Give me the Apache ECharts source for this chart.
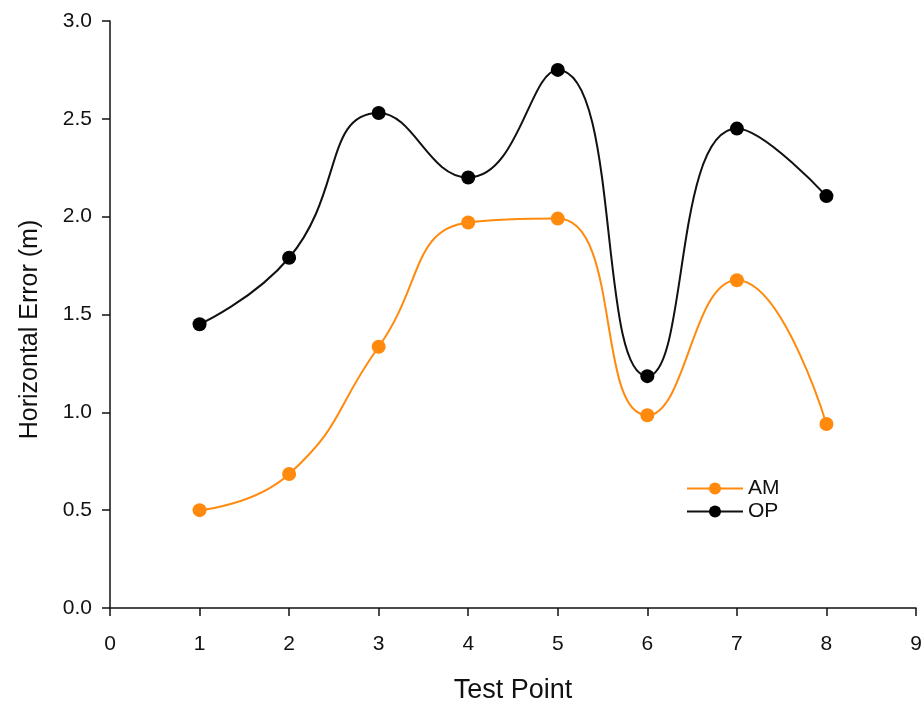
<!DOCTYPE html>
<html>
<head>
<meta charset="utf-8">
<script src="https://cdn.jsdelivr.net/npm/echarts@6/dist/echarts.min.js"></script>
<style>html,body{margin:0;padding:0;background:#fff}#c{width:923px;height:702px}</style>
</head>
<body>
<div id="c"></div>
<script>
var testPoints = [1, 2, 3, 4, 5, 6, 7, 8];
var amValues = [0.50, 0.685, 1.335, 1.97, 1.99, 0.985, 1.675, 0.94];
var opValues = [1.45, 1.79, 2.53, 2.20, 2.75, 1.185, 2.45, 2.105];
var xTicks = [0, 1, 2, 3, 4, 5, 6, 7, 8, 9];
var yTicks = [0.0, 0.5, 1.0, 1.5, 2.0, 2.5, 3.0];

function pairs(vals) { return testPoints.map(function (x, i) { return [x, vals[i]]; }); }

var font = 'Liberation Sans, Arial, sans-serif';
var chart = echarts.init(document.getElementById('c'), null, { renderer: 'canvas', width: 923, height: 702 });
chart.setOption({
  animation: false,
  backgroundColor: '#fff',
  grid: { left: 110, top: 21, width: 806, height: 587, containLabel: false, outerBoundsMode: 'none' },
  legend: {
    orient: 'vertical', left: 681, top: 473, itemWidth: 56, itemHeight: 15, itemGap: 2,
    textStyle: { fontFamily: font, fontSize: 21, color: '#111' },
    data: ['AM', 'OP']
  },
  xAxis: {
    type: 'value', min: xTicks[0], max: xTicks[xTicks.length - 1], interval: 1,
    name: 'Test Point', nameLocation: 'middle', nameGap: 69,
    nameTextStyle: { fontFamily: font, fontSize: 27, color: '#111' },
    axisLine: { lineStyle: { color: '#111', width: 1.5 } },
    axisTick: { show: true, inside: false, length: 8, lineStyle: { color: '#111', width: 1.5 } },
    axisLabel: { fontFamily: font, fontSize: 21, color: '#111', margin: 26 },
    splitLine: { show: false }
  },
  yAxis: {
    type: 'value', min: yTicks[0], max: yTicks[yTicks.length - 1], interval: 0.5,
    name: 'Horizontal Error (m)', nameLocation: 'middle', nameGap: 67,
    nameTextStyle: { fontFamily: font, fontSize: 25, color: '#111', padding: [0, 30, 0, 0] },
    axisLine: { show: true, lineStyle: { color: '#111', width: 1.5 } },
    axisTick: { show: true, inside: false, length: 8, lineStyle: { color: '#111', width: 1.5 } },
    axisLabel: { fontFamily: font, fontSize: 21, color: '#111', margin: 18,
      formatter: function (v) { return v.toFixed(1); } },
    splitLine: { show: false }
  },
  series: [
    {
      name: 'AM', type: 'line', data: pairs(amValues), smooth: 0.5,
      symbol: 'circle', symbolSize: 14,
      lineStyle: { color: '#FF8A0D', width: 2 },
      itemStyle: { color: '#FF8A0D' }
    },
    {
      name: 'OP', type: 'line', data: pairs(opValues), smooth: 0.5,
      symbol: 'circle', symbolSize: 14,
      lineStyle: { color: '#111', width: 2 },
      itemStyle: { color: '#000' }
    }
  ]
});
</script>
</body>
</html>
